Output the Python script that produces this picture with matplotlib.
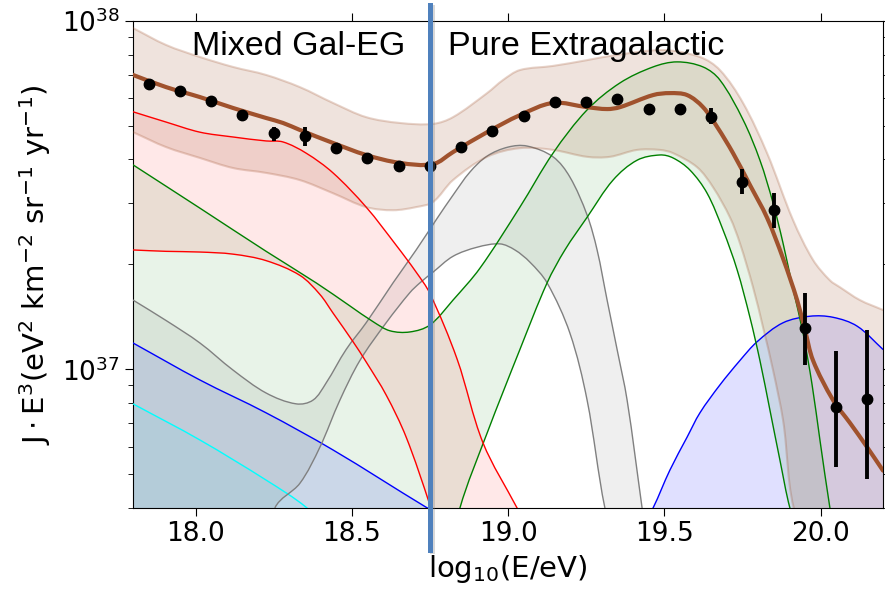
import numpy as np
import matplotlib
matplotlib.use("Agg")
import matplotlib.pyplot as plt
import matplotlib.patheffects as pe
from matplotlib.path import Path
from matplotlib.patches import PathPatch
from matplotlib.ticker import NullFormatter

# all flux values in units of 1e37 eV^2 km^-2 sr^-1 yr^-1
UNIT = 1e37

# measured points
data_x = [17.85, 17.95, 18.05, 18.15, 18.25, 18.35, 18.45, 18.55, 18.65, 18.75, 18.85, 18.95,
          19.05, 19.15, 19.25, 19.35, 19.45, 19.55, 19.65, 19.75, 19.85, 19.95, 20.05, 20.15]
data_y = [6.60, 6.28, 5.87, 5.35, 4.77, 4.67, 4.31, 4.04, 3.83, 3.84, 4.34, 4.83,
          5.33, 5.85, 5.85, 5.96, 5.58, 5.58, 5.31, 3.45, 2.86, 1.31, 0.778, 0.822]
err_dn = [0.03, 0.03, 0.03, 0.03, 0.25, 0.29, 0.03, 0.03, 0.03, 0.03, 0.03, 0.03,
          0.03, 0.04, 0.04, 0.05, 0.06, 0.08, 0.26, 0.27, 0.31, 0.28, 0.255, 0.338]
err_up = [0.03, 0.03, 0.03, 0.03, 0.18, 0.29, 0.03, 0.03, 0.03, 0.03, 0.03, 0.03,
          0.03, 0.04, 0.04, 0.05, 0.06, 0.08, 0.31, 0.31, 0.35, 0.35, 0.352, 0.478]

# total model and its band
tot_x = [17.80, 17.906, 18.014, 18.12, 18.226, 18.28, 18.334, 18.44, 18.546, 18.654, 18.76, 18.824,
         18.933, 19.038, 19.144, 19.253, 19.317, 19.358, 19.464, 19.518, 19.573, 19.624, 19.669,
         19.72, 19.774, 19.829, 19.88, 19.925, 19.95, 19.976, 20.04, 20.094, 20.149, 20.2]
tot_y = [6.99, 6.45, 6.04, 5.62, 5.26, 5.09, 4.86, 4.46, 4.12, 3.91, 3.88, 4.20,
         4.79, 5.36, 5.81, 5.65, 5.58, 5.65, 6.12, 6.20, 6.12, 5.65, 4.96,
         4.17, 3.38, 2.72, 2.08, 1.58, 1.30, 1.06, 0.816, 0.702, 0.598, 0.512]
band_hi_x = [17.80, 17.906, 18.014, 18.12, 18.226, 18.334, 18.44, 18.546, 18.654, 18.76, 18.824,
             18.933, 18.984, 19.038, 19.144, 19.253, 19.336, 19.496, 19.614, 19.678, 19.752,
             19.829, 19.912, 19.976, 20.03, 20.062, 20.126, 20.2]
band_hi_y = [9.53, 8.52, 7.87, 7.37, 6.99, 6.45, 5.81, 5.29, 5.09, 5.06, 5.29,
             6.20, 6.76, 7.22, 7.42, 7.71, 7.95, 8.24, 7.87, 7.22, 5.81,
             4.17, 2.68, 2.06, 1.80, 1.72, 1.58, 1.48]
band_lo_x = [17.80, 17.906, 18.014, 18.12, 18.226, 18.334, 18.44, 18.546, 18.632, 18.706, 18.76,
             18.824, 18.933, 19.038, 19.144, 19.253, 19.326, 19.413, 19.486, 19.528, 19.605,
             19.656, 19.71, 19.742, 19.784, 19.816, 19.848, 19.88, 19.925, 20.2]
band_lo_y = [4.79, 4.34, 4.04, 3.78, 3.66, 3.49, 3.20, 2.92, 2.86, 2.92, 3.02,
             3.49, 4.07, 4.31, 4.26, 4.07, 4.07, 4.26, 4.26, 4.17, 3.80,
             3.33, 2.73, 2.30, 1.72, 1.32, 0.995, 0.715, 0.37, 0.1]

# red component
red_hi_x = [17.80, 17.906, 18.014, 18.12, 18.226, 18.28, 18.354, 18.44, 18.546, 18.642, 18.706,
            18.75, 18.837, 18.92, 19.029, 19.12]
red_hi_y = [5.48, 5.12, 4.79, 4.64, 4.52, 4.49, 4.17, 3.66, 2.92, 2.27, 1.90,
            1.65, 1.07, 0.615, 0.400, 0.28]
red_lo_x = [17.80, 17.906, 18.014, 18.12, 18.226, 18.334, 18.398, 18.44, 18.504, 18.546, 18.61,
            18.674, 18.75, 18.782]
red_lo_y = [2.20, 2.18, 2.17, 2.14, 2.05, 1.86, 1.64, 1.45, 1.20, 1.05, 0.844,
            0.639, 0.408, 0.324]

# green component
grn_hi_x = [17.80, 18.014, 18.226, 18.386, 18.494, 18.568, 18.622, 18.686, 18.75, 18.824, 18.91,
            19.038, 19.144, 19.253, 19.358, 19.464, 19.541, 19.624, 19.678, 19.752, 19.806,
            19.848, 19.88, 19.912, 19.944, 19.973, 19.998, 20.03, 20.078]
grn_hi_y = [3.86, 2.90, 2.18, 1.77, 1.52, 1.37, 1.29, 1.28, 1.34, 1.58, 1.95,
            2.92, 4.17, 5.55, 6.63, 7.37, 7.62, 7.37, 6.76, 5.20, 3.98,
            3.00, 2.30, 1.70, 1.27, 0.902, 0.627, 0.400, 0.218]
grn_lo_x = [17.80, 18.75, 18.798, 18.846, 18.933, 19.038, 19.125, 19.182, 19.253, 19.336, 19.413,
            19.486, 19.528, 19.582, 19.637, 19.688, 19.733, 19.774, 19.806, 19.838, 19.87,
            19.902, 19.934, 20.2]
grn_lo_y = [0.11, 0.156, 0.249, 0.400, 0.656, 1.14, 1.77, 2.20, 2.73, 3.49, 3.98,
            4.12, 4.04, 3.73, 3.20, 2.51, 1.93, 1.41, 1.06, 0.764, 0.549,
            0.400, 0.334, 0.1]

# grey component
gry_hi_x = [17.80, 17.906, 18.014, 18.12, 18.226, 18.322, 18.376, 18.418, 18.482, 18.546, 18.632,
            18.706, 18.773, 18.824, 18.878, 18.933, 19.0, 19.061, 19.144, 19.198, 19.253,
            19.285, 19.317, 19.349, 19.381, 19.429, 19.47]
gry_hi_y = [1.58, 1.38, 1.19, 0.995, 0.855, 0.796, 0.816, 0.914, 1.14, 1.36, 1.77,
            2.20, 2.71, 3.16, 3.68, 4.09, 4.34, 4.37, 4.07, 3.56, 2.77,
            2.20, 1.58, 1.14, 0.816, 0.400, 0.218]
gry_lo_x = [17.80, 18.174, 18.254, 18.334, 18.398, 18.462, 18.526, 18.61, 18.686, 18.718, 18.76,
            18.824, 18.901, 18.974, 19.022, 19.07, 19.125, 19.198, 19.253, 19.31, 19.342]
gry_lo_y = [0.05, 0.218, 0.400, 0.471, 0.598, 0.816, 1.06, 1.36, 1.66, 1.77, 1.90,
            2.11, 2.24, 2.29, 2.20, 2.03, 1.77, 1.27, 0.816, 0.400, 0.334]

# blue component
blu_x = [17.80, 18.014, 18.226, 18.44, 18.738, 18.81, 18.95, 19.12, 19.35, 19.42, 19.464, 19.518,
         19.573, 19.614, 19.678, 19.742, 19.797, 19.88, 19.966, 20.04, 20.117, 20.2]
blu_y = [1.19, 0.932, 0.750, 0.587, 0.402, 0.37, 0.25, 0.18, 0.25, 0.34, 0.400, 0.514,
         0.639, 0.750, 0.902, 1.06, 1.20, 1.36, 1.42, 1.41, 1.33, 1.14]

# cyan component
cyn_x = [17.80, 18.014, 18.226, 18.354, 18.45]
cyn_y = [0.796, 0.627, 0.481, 0.402, 0.33]

floor_x = [17.80, 20.2]
floor_y = [0.01, 0.01]

# rough pixel scale of one x unit / one decade, only used to shape the curve tangents
KX, KY = 312.5, 348.6


def smooth(xs, ys):
    # smooth bezier path through the read points, built in (x, log y) space
    p = np.column_stack([np.asarray(xs, float) * KX,
                         np.log10(np.asarray(ys, float) * UNIT) * KY])
    n = len(p)
    d = np.empty_like(p)
    d[0] = p[1] - p[0]
    d[-1] = p[-1] - p[-2]
    d[1:-1] = p[2:] - p[:-2]
    d /= np.linalg.norm(d, axis=1)[:, None]
    verts = [p[0]]
    for i in range(n - 1):
        h = np.linalg.norm(p[i + 1] - p[i]) / 3
        verts += [p[i] + d[i] * h, p[i + 1] - d[i + 1] * h, p[i + 1]]
    v = np.array(verts)
    v = np.column_stack([v[:, 0] / KX, 10 ** (v[:, 1] / KY)])
    codes = [Path.MOVETO] + [Path.CURVE4] * (3 * (n - 1))
    return v, codes


def line(ax, xs, ys, color, lw=1.0, alpha=1.0, z=3):
    v, c = smooth(xs, ys)
    ax.add_patch(PathPatch(Path(v, c), fill=False, edgecolor=color, lw=lw, alpha=alpha,
                           capstyle="round", joinstyle="round", zorder=z))


def band(ax, xu, yu, xl, yl, color, alpha):
    vu, cu = smooth(xu, yu)
    vl, cl = smooth(xl[::-1], yl[::-1])
    cl = [Path.LINETO] + cl[1:]
    verts = np.vstack([vu, vl, vu[:1]])
    codes = cu + cl + [Path.CLOSEPOLY]
    ax.add_patch(PathPatch(Path(verts, codes), facecolor=color, alpha=alpha, lw=0, zorder=1))


fig = plt.figure(figsize=(8.85, 5.91), dpi=100)
ax = fig.add_axes([0.1503, 0.1404, 0.8475, 0.8245])
ax.set_yscale("log")

band(ax, cyn_x, cyn_y, floor_x, floor_y, "cyan", 0.07)
band(ax, blu_x, blu_y, floor_x, floor_y, "blue", 0.12)
band(ax, gry_hi_x, gry_hi_y, gry_lo_x, gry_lo_y, "gray", 0.12)
band(ax, grn_hi_x, grn_hi_y, grn_lo_x, grn_lo_y, "green", 0.09)
band(ax, red_hi_x, red_hi_y, red_lo_x, red_lo_y, "red", 0.09)
band(ax, band_hi_x, band_hi_y, band_lo_x, band_lo_y, "sienna", 0.16)

line(ax, cyn_x, cyn_y, "cyan")
line(ax, blu_x, blu_y, "blue")
line(ax, gry_hi_x, gry_hi_y, "gray")
line(ax, gry_lo_x, gry_lo_y, "gray")
line(ax, grn_hi_x, grn_hi_y, "green")
line(ax, grn_lo_x, grn_lo_y, "green")
line(ax, red_hi_x, red_hi_y, "red")
line(ax, red_lo_x, red_lo_y, "red")
line(ax, band_hi_x, band_hi_y, "sienna", lw=1.5, alpha=0.25)
line(ax, band_lo_x, band_lo_y, "sienna", lw=1.5, alpha=0.25)
line(ax, tot_x, tot_y, "sienna", lw=3, z=4)

ax.errorbar(data_x, np.array(data_y) * UNIT,
            yerr=[np.array(err_dn) * UNIT, np.array(err_up) * UNIT],
            fmt="o", color="k", ms=7.5, elinewidth=2.8, capsize=0, zorder=5)

ax.set_xlim(17.8, 20.2)
ax.set_ylim(4e36, 1e38)
ax.set_xticks([18.0, 18.5, 19.0, 19.5, 20.0])
ax.yaxis.set_minor_formatter(NullFormatter())
ax.tick_params(which="both", direction="out", top=True, right=True, labelsize=19)
ax.tick_params(which="major", length=6)
ax.tick_params(which="minor", length=3.5)
ax.tick_params(axis="x", which="minor", top=False, bottom=False)

ax.set_xlabel("log$_{10}$(E/eV)", fontsize=21, labelpad=4)
ax.set_ylabel(r"$\mathrm{J\cdot E^3(eV^2\ km^{-2}\ sr^{-1}\ yr^{-1})}$", fontsize=21, labelpad=6)

ax.text(0.079, 0.930, "Mixed Gal-EG", transform=ax.transAxes, fontsize=24.5,
        family="Liberation Sans", va="baseline")
ax.text(0.420, 0.930, "Pure Extragalactic", transform=ax.transAxes, fontsize=24.5,
        family="Liberation Sans", va="baseline")

ax.axvline(18.75, ymin=-0.086, ymax=1.032, clip_on=False, color="#4f81bd", lw=3.6, zorder=10,
           path_effects=[pe.SimpleLineShadow(offset=(1.2, -1), shadow_color="gray", alpha=0.3),
                         pe.Normal()])

fig.savefig("out.png", dpi=100)
